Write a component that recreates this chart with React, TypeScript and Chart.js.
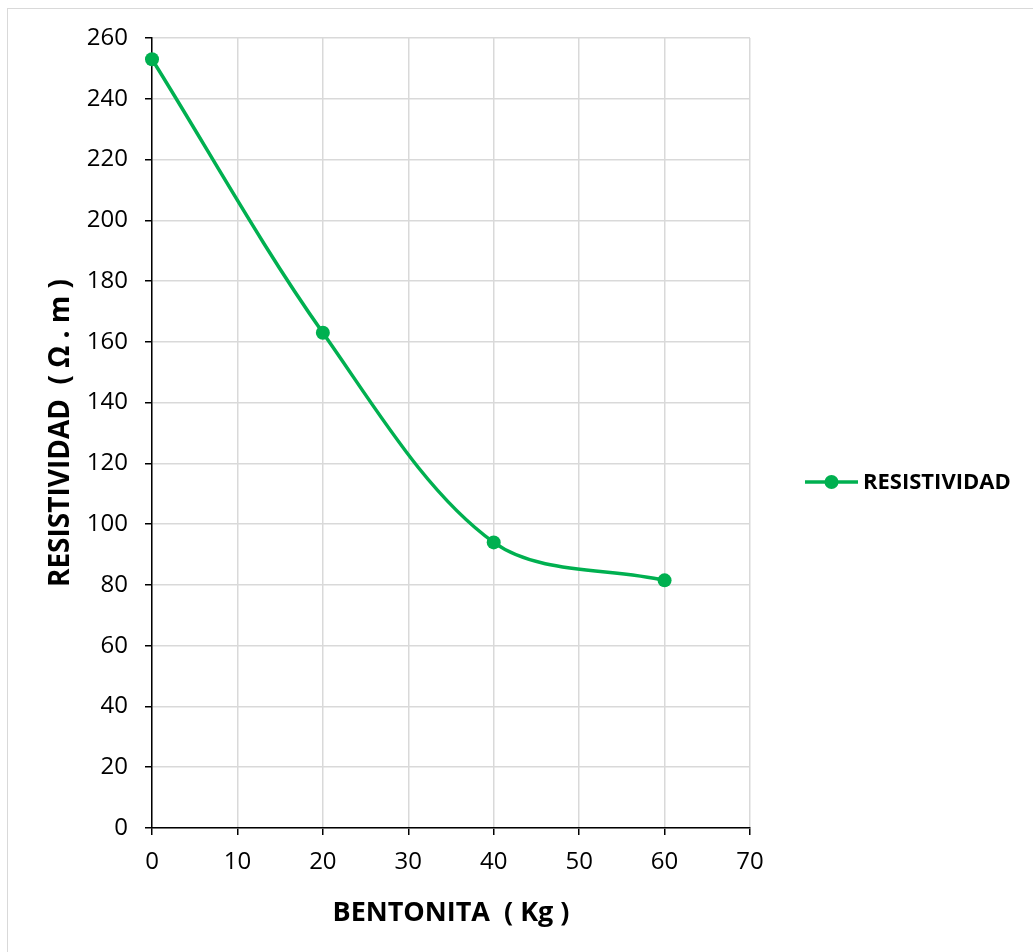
import React, { useEffect, useRef } from "react";
import { Chart, registerables } from "chart.js";

Chart.register(...registerables);

// Bentonite dose (kg) against measured soil resistivity (Ω·m)
const bentonitaKg = [0, 20, 40, 60];
const resistividad = [253, 163, 94, 81.5];
const seriesName = "RESISTIVIDAD";
const xTitle = "BENTONITA  ( Kg )";
const yTitle = "RESISTIVIDAD  ( Ω . m )";

const GREEN = "#00b050";
const GRID = "#d9d9d9";
const FONT = "'Open Sans', 'Noto Sans', sans-serif";

const framePlugin = {
  id: "frame",
  beforeDraw(chart: any) {
    const ctx = chart.ctx;
    ctx.save();
    ctx.fillStyle = "#fff";
    ctx.fillRect(0, 0, chart.width, chart.height);
    ctx.strokeStyle = GRID;
    ctx.lineWidth = 1;
    ctx.strokeRect(7.5, 8.5, chart.width + 10, chart.height + 10);
    ctx.restore();
  },
};

const legendPlugin = {
  id: "lineLegend",
  afterDraw(chart: any) {
    const ctx = chart.ctx;
    const x0 = 805;
    const y = 482;
    ctx.save();
    ctx.strokeStyle = GREEN;
    ctx.lineWidth = 3.5;
    ctx.beginPath();
    ctx.moveTo(x0, y);
    ctx.lineTo(x0 + 53, y);
    ctx.stroke();
    ctx.fillStyle = GREEN;
    ctx.beginPath();
    ctx.arc(x0 + 26.5, y, 7, 0, Math.PI * 2);
    ctx.fill();
    ctx.fillStyle = "#000";
    ctx.font = `bold 22px ${FONT}`;
    ctx.textBaseline = "middle";
    ctx.textAlign = "left";
    ctx.fillText(seriesName, x0 + 58, y + 1);
    ctx.restore();
  },
};

export default function App() {
  const ref = useRef<HTMLCanvasElement | null>(null);

  useEffect(() => {
    if (!ref.current) return;
    const points = bentonitaKg.map((x, i) => ({ x, y: resistividad[i] }));
    const chart = new Chart(ref.current, {
      type: "scatter",
      data: {
        datasets: [
          {
            label: seriesName,
            data: points,
            showLine: true,
            borderColor: GREEN,
            backgroundColor: GREEN,
            borderWidth: 3.5,
            pointRadius: 7,
            pointBackgroundColor: GREEN,
            pointBorderWidth: 0,
            tension: 0.33,
            clip: false,
          },
        ],
      },
      options: {
        animation: false,
        responsive: false,
        layout: { padding: { left: 0, top: 38, right: 283, bottom: 0 } },
        plugins: { legend: { display: false }, tooltip: { enabled: false } },
        scales: {
          x: {
            type: "linear",
            min: 0,
            max: 70,
            afterFit(scale: any) {
              scale.height = 124;
            },
            ticks: {
              stepSize: 10,
              color: "#000",
              font: { family: FONT, size: 24 },
              padding: 13,
            },
            grid: { color: GRID, lineWidth: 1.5, tickColor: "#000", tickLength: 7 },
            border: { color: "#000", width: 1.5 },
            title: {
              display: true,
              text: xTitle,
              color: "#000",
              font: { family: FONT, size: 27, weight: "bold" },
              padding: { top: 0, bottom: 22 },
            },
          },
          y: {
            type: "linear",
            min: 0,
            max: 260,
            afterFit(scale: any) {
              scale.width = 152;
            },
            ticks: {
              stepSize: 20,
              color: "#000",
              font: { family: FONT, size: 24 },
              padding: 17,
            },
            grid: { color: GRID, lineWidth: 1.5, tickColor: "#000", tickLength: 7 },
            border: { color: "#000", width: 1.5 },
            title: {
              display: true,
              text: yTitle,
              color: "#000",
              font: { family: FONT, size: 28, weight: "bold" },
              padding: { top: 44, bottom: 0 },
            },
          },
        },
      },
      plugins: [framePlugin, legendPlugin],
    });
    return () => chart.destroy();
  }, []);

  return (
    <div style={{ position: "fixed", left: 0, top: 0, width: 1033, height: 952 }}>
      <canvas ref={ref} width={1033} height={952} style={{ display: "block" }} />
    </div>
  );
}
